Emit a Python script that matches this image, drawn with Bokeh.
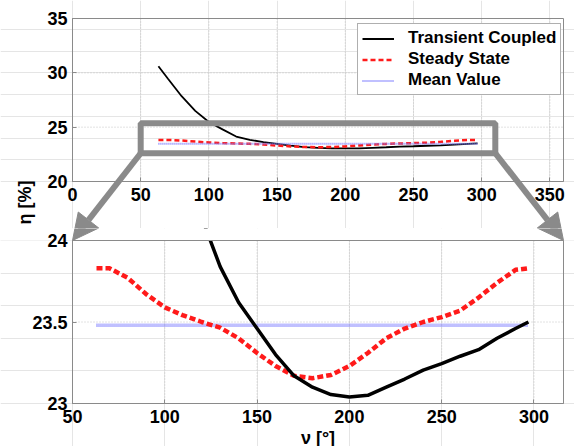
import math

from bokeh.embed import file_html
from bokeh.layouts import column
from bokeh.models import (Arrow, ColumnDataSource, CustomJSTickFormatter,
                          FixedTicker, Label, LinearAxis, NormalHead, Range1d)
from bokeh.plotting import figure
from bokeh.resources import INLINE

# ---------------------------------------------------------------- data
nu = [63, 70, 80, 90, 100, 110, 120, 130, 140, 150, 160, 170, 180,
      190, 200, 210, 220, 230, 240, 250, 260, 270, 280, 290, 297]
eta_transient = [30.60, 29.45, 27.85, 26.50, 25.48, 24.80, 24.14, 23.84,
                 23.62, 23.46, 23.30, 23.17, 23.10, 23.055, 23.04, 23.05,
                 23.10, 23.15, 23.205, 23.245, 23.29, 23.33, 23.40, 23.46,
                 23.50]
eta_steady = [23.83, 23.83, 23.77, 23.67, 23.59, 23.54, 23.50, 23.465,
              23.40, 23.31, 23.23, 23.17, 23.155, 23.175, 23.23, 23.31,
              23.40, 23.46, 23.50, 23.53, 23.57, 23.65, 23.74, 23.82, 23.83]
eta_mean = 23.48

series_names = ["Transient Coupled", "Steady State", "Mean Value"]

top_xticks = [0, 50, 100, 150, 200, 250, 300, 350]
top_yticks = [20, 25, 30, 35]
bot_xticks = [50, 100, 150, 200, 250, 300]
bot_yticks = [23, 23.5, 24]

top_xlim, top_ylim = (0, 360), (20, 35)
bot_xlim, bot_ylim = (50, 316), (23, 24)

# the zoom window marked on the overview plot
zoom_x = (50, 310)
zoom_y = (22.6, 25.35)

# ---------------------------------------------------------------- layout
# each panel's frame fills its whole canvas; the plot boxes sit inside it
W = 574
TOP_H, BOT_H = 228, 218
BOX_L, BOX_R = 72, 563
TOP_BOX_T, TOP_BOX_B = 18, 181
BOT_BOX_T, BOT_BOX_B = 240, 403

FONT = "Liberation Sans"
GRAY = "#8a8a8a"
BLACK = "#000000"
RED = "#ff1a1a"
BLUE = "#8080ff"


def lin(p, p0, p1, v0, v1):
    return v0 + (p - p0) / (p1 - p0) * (v1 - v0)


def top_to_page(x, y):
    return (lin(x, top_xlim[0], top_xlim[1], BOX_L, BOX_R),
            lin(y, top_ylim[1], top_ylim[0], TOP_BOX_T, TOP_BOX_B))


def page_to_top(px, py):
    return (lin(px, BOX_L, BOX_R, top_xlim[0], top_xlim[1]),
            lin(py, TOP_BOX_T, TOP_BOX_B, top_ylim[1], top_ylim[0]))


def bot_to_page(x, y):
    return (lin(x, bot_xlim[0], bot_xlim[1], BOX_L, BOX_R),
            lin(y, bot_ylim[1], bot_ylim[0], BOT_BOX_T, BOT_BOX_B))


def page_to_bot(px, py):
    return (lin(px, BOX_L, BOX_R, bot_xlim[0], bot_xlim[1]),
            lin(py, BOT_BOX_T, BOT_BOX_B, bot_ylim[1], bot_ylim[0]))


def make_panel(height, page_top, to_data):
    x0, y_top = to_data(0, page_top)
    x1, y_bot = to_data(W, page_top + height)
    p = figure(width=W, height=height, output_backend="svg",
               toolbar_location=None, x_axis_location=None, y_axis_location=None,
               x_range=Range1d(x0, x1), y_range=Range1d(y_bot, y_top),
               min_border=0)
    p.outline_line_color = None
    p.background_fill_color = "white"
    p.border_fill_color = "white"
    return p


def add_axes(p, xlim, ylim, xticks, yticks):
    xa = LinearAxis(fixed_location=ylim[0], bounds=xlim,
                    ticker=FixedTicker(ticks=xticks))
    ya = LinearAxis(fixed_location=xlim[0], bounds=ylim,
                    ticker=FixedTicker(ticks=yticks),
                    formatter=CustomJSTickFormatter(code="return String(tick)"))
    for ax in (xa, ya):
        ax.axis_line_color = GRAY
        ax.major_tick_line_color = GRAY
        ax.major_tick_in = 4
        ax.major_tick_out = 0
        ax.minor_tick_line_color = None
        ax.major_label_text_font = FONT
        ax.major_label_text_font_size = "18px"
        ax.major_label_text_font_style = "bold"
        ax.major_label_text_color = BLACK
    xa.major_label_standoff = 6
    ya.major_label_standoff = 5
    p.add_layout(xa, "below")
    p.add_layout(ya, "left")


def add_grid(p, xlim, ylim, xticks, yticks):
    p.segment(x0=xticks, y0=[ylim[0]] * len(xticks),
              x1=xticks, y1=[ylim[1]] * len(xticks),
              line_color="#c4c4c4", line_width=1, line_dash="1 2")
    p.segment(x0=[xlim[0]] * len(yticks), y0=yticks,
              x1=[xlim[1]] * len(yticks), y1=yticks,
              line_color="#c4c4c4", line_width=1, line_dash="1 2")


def add_box(p, xlim, ylim):
    p.quad(left=[xlim[0]], right=[xlim[1]], bottom=[ylim[0]], top=[ylim[1]],
           fill_color=None, line_color=GRAY, line_width=1)


src = ColumnDataSource(dict(nu=nu, tr=eta_transient, ss=eta_steady))
mean_src = ColumnDataSource(dict(nu=[nu[0], nu[-1]], m=[eta_mean, eta_mean]))

# ---------------------------------------------------------------- overview
top = make_panel(TOP_H, 0, page_to_top)
add_grid(top, top_xlim, top_ylim, top_xticks, top_yticks)

top.line("nu", "tr", source=src, line_color=BLACK, line_width=1.8,
         legend_label=series_names[0])
top.line("nu", "ss", source=src, line_color=RED, line_width=2.5,
         line_dash="5 3", legend_label=series_names[1])
top.line("nu", "m", source=mean_src, line_color=BLUE, line_width=2,
         line_dash="1 1", legend_label=series_names[2])

top.quad(left=[zoom_x[0]], right=[zoom_x[1]], bottom=[zoom_y[0]], top=[zoom_y[1]],
         fill_color=None, line_color=GRAY, line_width=6)
add_box(top, top_xlim, top_ylim)
add_axes(top, top_xlim, top_ylim, top_xticks, top_yticks)

lg = top.legend[0]
lg.location = (357, TOP_H - 95)
lg.padding = 4
lg.margin = 0
lg.spacing = 1
lg.glyph_width = 32
lg.glyph_height = 19
lg.label_height = 19
lg.label_standoff = 14
lg.label_text_font = FONT
lg.label_text_font_size = "17px"
lg.label_text_font_style = "bold"
lg.label_text_color = BLACK
lg.border_line_color = "#606060"
lg.border_line_width = 1
lg.background_fill_alpha = 1

# ---------------------------------------------------------------- detail
bot = make_panel(BOT_H, TOP_H, page_to_bot)
add_grid(bot, bot_xlim, bot_ylim, bot_xticks, bot_yticks)

bot.line("nu", "m", source=mean_src, line_color=BLUE, line_width=3.5,
         line_dash="1 1")
bot.line("nu", "ss", source=src, line_color=RED, line_width=4.5,
         line_dash="6 3")
bot.line("nu", "tr", source=src, line_color=BLACK, line_width=3.5)

# blank out whatever runs above the detail box
bot.quad(left=[bot.x_range.start], right=[bot.x_range.end],
         bottom=[bot_ylim[1]], top=[bot.y_range.end],
         fill_color="white", line_color=None)
add_box(bot, bot_xlim, bot_ylim)
add_axes(bot, bot_xlim, bot_ylim, bot_xticks, bot_yticks)

# ---------------------------------------------------------------- arrows
# each arrow runs from a lower corner of the zoom window to the matching
# upper corner of the detail box; both panels draw it, each shows its part
arrows = [
    (top_to_page(zoom_x[0], zoom_y[0]), bot_to_page(bot_xlim[0], bot_ylim[1])),
    (top_to_page(zoom_x[1], zoom_y[0]), bot_to_page(bot_xlim[1], bot_ylim[1])),
]
for (s, e) in arrows:
    for p, conv in ((top, page_to_top), (bot, page_to_bot)):
        xs, ys = conv(*s)
        xe, ye = conv(*e)
        p.add_layout(Arrow(x_start=xs, y_start=ys, x_end=xe, y_end=ye,
                           line_color=GRAY, line_width=6,
                           end=NormalHead(size=26, fill_color=GRAY,
                                          line_color=GRAY, line_width=1)))

# ---------------------------------------------------------------- axis titles
yx, yy = page_to_top(24, 202)
top.add_layout(Label(x=yx, y=yy, text="η [%]", angle=math.pi / 2,
                     text_align="center", text_baseline="middle",
                     text_font=FONT, text_font_size="18px",
                     text_font_style="bold", text_color=BLACK))
xx, xy = page_to_bot((BOX_L + BOX_R) / 2, 437)
bot.add_layout(Label(x=xx, y=xy, text="ν [°]", text_align="center",
                     text_baseline="middle", text_font=FONT,
                     text_font_size="18px", text_font_style="bold",
                     text_color=BLACK))

layout = column(top, bot, spacing=0)
open("out.html", "w").write(file_html(layout, INLINE))
